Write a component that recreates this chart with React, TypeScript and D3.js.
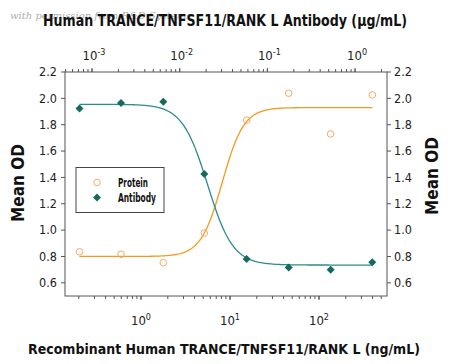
import React from 'react';
import * as d3 from 'd3';

// Data
const proteinConc = [0.203, 0.596, 1.78, 5.14, 15.4, 45.7, 135, 398]; // ng/mL
const proteinOD = [0.836, 0.817, 0.753, 0.977, 1.835, 2.039, 1.73, 2.026];
const antibodyConc = [0.00072, 0.00214, 0.0065, 0.0191, 0.058, 0.175, 0.527, 1.57]; // ug/mL
const antibodyOD = [1.923, 1.964, 1.974, 1.425, 0.781, 0.716, 0.7, 0.756];

// Fitted 4PL parameters
const proteinFit = { bottom: 0.8, top: 1.93, ec50: 8.2, hill: 3.6 };
const antibodyFit = { bottom: 0.735, top: 1.955, ec50: 0.0208, hill: 3.0 };

const yTicks = [0.6, 0.8, 1.0, 1.2, 1.4, 1.6, 1.8, 2.0, 2.2];
const bottomMajor = [0, 1, 2];
const topMajor = [-3, -2, -1, 0];

const W = 450, H = 364;
const L = 65, R = 387, T = 72, B = 296;

const ORANGE_LINE = '#F39A1E';
const ORANGE_PT = '#F4AA66';
const TEAL_LINE = '#2A8C8A';
const TEAL_PT = '#15695E';
const AXIS = '#555';
const FONT = "'DejaVu Sans Condensed','Liberation Sans Narrow','DejaVu Sans',sans-serif";

function minorTicks(domain: [number, number]) {
  const out: number[] = [];
  const lo = Math.floor(Math.log10(domain[0]));
  const hi = Math.ceil(Math.log10(domain[1]));
  for (let k = lo; k <= hi; k++) {
    for (let m = 1; m <= 9; m++) {
      const v = m * Math.pow(10, k);
      if (v >= domain[0] && v <= domain[1]) out.push(v);
    }
  }
  return out;
}

export default function App() {
  const xB = d3.scaleLog().domain([Math.pow(10, -0.854), Math.pow(10, 2.764)]).range([L, R]);
  const xT = d3.scaleLog().domain([Math.pow(10, -3.308), Math.pow(10, 0.364)]).range([L, R]);
  const y = d3.scaleLinear().domain([0.5, 2.2]).range([B, T]);

  const fp = (x: number) => proteinFit.bottom + (proteinFit.top - proteinFit.bottom) / (1 + Math.pow(proteinFit.ec50 / x, proteinFit.hill));
  const fa = (x: number) => antibodyFit.bottom + (antibodyFit.top - antibodyFit.bottom) / (1 + Math.pow(x / antibodyFit.ec50, antibodyFit.hill));

  const pLine = d3.line<number>().x(d => xB(d)).y(d => y(fp(d)));
  const aLine = d3.line<number>().x(d => xT(d)).y(d => y(fa(d)));
  const sampleLog = (a: number, b: number) => d3.range(0, 201).map(i => Math.pow(10, Math.log10(a) + (Math.log10(b) - Math.log10(a)) * i / 200));
  const pPts = sampleLog(proteinConc[0], proteinConc[proteinConc.length - 1]);
  const aPts = sampleLog(antibodyConc[0], antibodyConc[antibodyConc.length - 1]);

  const bMinor = minorTicks(xB.domain() as [number, number]);
  const tMinor = minorTicks(xT.domain() as [number, number]);

  const diamond = (cx: number, cy: number, s: number) => `M${cx},${cy - s}L${cx + s},${cy}L${cx},${cy + s}L${cx - s},${cy}Z`;
  const txt = { fontFamily: FONT, fontStretch: 'condensed' as const };

  return (
    <svg width={W} height={H} style={{ position: 'absolute', left: 0, top: 0, background: '#fff' }}>
      <rect x={0} y={0} width={W} height={H} fill="#fff" />
      {/* faint watermark text */}
      <text x={10} y={19} fontFamily="'DejaVu Serif',serif" fontStyle="italic" fontSize={10} fill="#999" opacity={0.8}>with permission from R&amp;D Systems</text>
      {/* titles */}
      <text x={225} y={26} textAnchor="middle" style={txt} fontWeight="bold" fontSize={15.5} fill="#111" textLength={364} lengthAdjust="spacingAndGlyphs">Human TRANCE/TNFSF11/RANK L Antibody (μg/mL)</text>
      <text x={224} y={354} textAnchor="middle" style={txt} fontWeight="bold" fontSize={14.5} fill="#111" textLength={392} lengthAdjust="spacingAndGlyphs">Recombinant Human TRANCE/TNFSF11/RANK L (ng/mL)</text>
      <text transform={`translate(24,183) rotate(-90)`} textAnchor="middle" style={txt} fontWeight="bold" fontSize={17} fill="#111">Mean OD</text>
      <text transform={`translate(438,176) rotate(-90)`} textAnchor="middle" style={txt} fontWeight="bold" fontSize={17} fill="#111">Mean OD</text>

      {/* frame */}
      <rect x={L} y={T} width={R - L} height={B - T} fill="none" stroke={AXIS} strokeWidth={1} />

      {/* y ticks */}
      {yTicks.map(t => (
        <g key={'y' + t}>
          <line x1={L - 4} x2={L} y1={y(t)} y2={y(t)} stroke={AXIS} />
          <line x1={R} x2={R + 4} y1={y(t)} y2={y(t)} stroke={AXIS} />
          <text x={L - 8} y={y(t)} dy="0.35em" textAnchor="end" style={txt} fontSize={12.5} fill="#222">{t.toFixed(1)}</text>
          <text x={R + 7} y={y(t)} dy="0.35em" textAnchor="start" style={txt} fontSize={12.5} fill="#222">{t.toFixed(1)}</text>
        </g>
      ))}

      {/* bottom ticks */}
      {bMinor.map((v, i) => (
        <line key={'bm' + i} x1={xB(v)} x2={xB(v)} y1={B} y2={B + 3} stroke={AXIS} />
      ))}
      {bottomMajor.map(k => (
        <g key={'bM' + k}>
          <line x1={xB(Math.pow(10, k))} x2={xB(Math.pow(10, k))} y1={B} y2={B + 4} stroke={AXIS} />
          <text x={xB(Math.pow(10, k))} y={325} textAnchor="middle" style={txt} fontSize={13} fill="#222">
            10<tspan dy={-5} fontSize={9}>{k}</tspan>
          </text>
        </g>
      ))}

      {/* top ticks */}
      {tMinor.map((v, i) => (
        <line key={'tm' + i} x1={xT(v)} x2={xT(v)} y1={T} y2={T - 3} stroke={AXIS} />
      ))}
      {topMajor.map(k => (
        <g key={'tM' + k}>
          <line x1={xT(Math.pow(10, k))} x2={xT(Math.pow(10, k))} y1={T} y2={T - 4} stroke={AXIS} />
          <text x={xT(Math.pow(10, k)) + 2} y={60} textAnchor="middle" style={txt} fontSize={13} fill="#222">
            10<tspan dy={-5} fontSize={9}>{k < 0 ? '-' + Math.abs(k) : String(k)}</tspan>
          </text>
        </g>
      ))}

      {/* curves */}
      <path d={pLine(pPts) || ''} fill="none" stroke={ORANGE_LINE} strokeWidth={1.3} />
      <path d={aLine(aPts) || ''} fill="none" stroke={TEAL_LINE} strokeWidth={1.3} />

      {/* points */}
      {proteinConc.map((c, i) => (
        <circle key={'p' + i} cx={xB(c)} cy={y(proteinOD[i])} r={3.3} fill="none" stroke={ORANGE_PT} strokeWidth={1} />
      ))}
      {antibodyConc.map((c, i) => (
        <path key={'a' + i} d={diamond(xT(c), y(antibodyOD[i]), 4)} fill={TEAL_PT} />
      ))}

      {/* legend */}
      <rect x={76} y={167.5} width={88} height={45} fill="#fff" stroke="#444" strokeWidth={1} />
      <circle cx={97} cy={182.5} r={3.3} fill="none" stroke={ORANGE_PT} strokeWidth={1} />
      <path d={diamond(97, 197.5, 4)} fill={TEAL_PT} />
      <text x={118} y={182.5} dy="0.35em" style={txt} fontWeight="bold" fontSize={12} fill="#111" textLength={30} lengthAdjust="spacingAndGlyphs">Protein</text>
      <text x={118} y={197.5} dy="0.35em" style={txt} fontWeight="bold" fontSize={12} fill="#111" textLength={38} lengthAdjust="spacingAndGlyphs">Antibody</text>
    </svg>
  );
}
